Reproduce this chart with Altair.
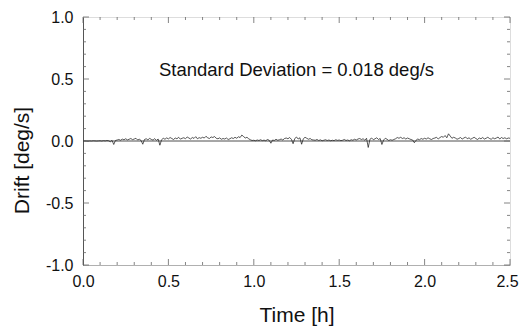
import altair as alt
import pandas as pd

# Drift series, sampled every 0.01 h from 0.00 to 2.50 h
drift = [
    0.000, 0.001, 0.000, -0.001, 0.001, 0.000, 0.002, 0.001, 0.000, 0.001,
    0.002, 0.000, 0.003, 0.001, 0.004, 0.002, -0.006, 0.005, -0.028, 0.004,
    0.008, 0.012, 0.006, 0.015, 0.010, 0.018, 0.009, 0.014, 0.020, 0.011,
    0.016, 0.022, 0.008, 0.014, 0.004, -0.026, 0.012, 0.018, 0.009, 0.021,
    0.013, 0.007, 0.019, 0.005, 0.016, -0.034, 0.010, 0.022, 0.014, 0.025,
    0.017, 0.028, 0.020, 0.012, 0.024, 0.018, 0.030, 0.015, 0.022, 0.026,
    0.019, 0.032, 0.024, 0.016, 0.028, 0.021, 0.035, 0.018, 0.027, 0.022,
    0.030, 0.024, 0.038, 0.026, 0.020, 0.033, 0.028, 0.036, 0.022, 0.018,
    0.025, 0.014, 0.020, 0.016, 0.024, 0.012, 0.018, 0.026, 0.020, 0.030,
    0.022, 0.034, 0.028, 0.048, 0.036, 0.024, 0.030, 0.018, 0.010, 0.004,
    0.006, 0.002, 0.008, 0.004, 0.010, 0.003, 0.007, 0.002, 0.012, 0.006,
    -0.018, 0.008, 0.004, 0.014, 0.006, 0.010, 0.016, 0.008, 0.020, 0.024,
    0.018, 0.028, 0.014, -0.022, 0.020, 0.032, 0.016, 0.026, -0.026, 0.018,
    0.030, 0.022, 0.014, 0.020, 0.010, 0.008, 0.006, 0.012, 0.004, 0.009,
    0.002, 0.006, 0.010, 0.004, 0.008, 0.002, 0.006, 0.003, 0.010, 0.005,
    0.008, 0.003, 0.006, 0.012, 0.004, 0.008, 0.002, 0.010, 0.006, 0.014,
    0.008, 0.016, 0.020, 0.012, 0.018, 0.006, 0.022, -0.052, 0.014, 0.024,
    0.010, 0.018, 0.026, 0.012, 0.020, -0.028, 0.008, 0.022, 0.014, 0.004,
    0.010, 0.006, 0.012, 0.018, 0.028, 0.022, 0.030, 0.020, 0.026, 0.016,
    0.024, 0.018, 0.012, 0.008, -0.014, 0.006, 0.016, 0.010, 0.020, 0.014,
    0.022, 0.016, 0.026, 0.018, 0.012, 0.020, 0.024, 0.030, 0.016, 0.028,
    0.036, 0.030, 0.044, 0.026, 0.058, 0.040, 0.022, 0.030, 0.024, 0.014,
    0.020, 0.028, 0.016, 0.024, 0.032, 0.018, 0.026, 0.014, 0.022, 0.030,
    0.020, 0.012, 0.024, 0.018, 0.028, 0.016, 0.022, 0.030, 0.020, 0.014,
    0.026, 0.018, 0.024, 0.032, 0.016, 0.028, 0.020, 0.026, 0.018, 0.024,
    0.022,
]
times = [round(i * 0.01, 2) for i in range(len(drift))]

x_major = [0.0, 0.5, 1.0, 1.5, 2.0, 2.5]
x_minor = [0.1, 0.2, 0.3, 0.4, 0.6, 0.7, 0.8, 0.9, 1.1, 1.2, 1.3, 1.4,
           1.6, 1.7, 1.8, 1.9, 2.1, 2.2, 2.3, 2.4]
y_major = [-1.0, -0.5, 0.0, 0.5, 1.0]
y_minor = [-0.9, -0.8, -0.7, -0.6, -0.4, -0.3, -0.2, -0.1,
           0.1, 0.2, 0.3, 0.4, 0.6, 0.7, 0.8, 0.9]

annotation = "Standard Deviation = 0.018 deg/s"
ann_x, ann_y = 1.25, 0.57

W, H = 427, 248
FONT = "Liberation Sans"
HYPHEN_EXPR = "replace(datum.label, '\u2212', '-')"

xs = alt.Scale(domain=[0, 2.5], nice=False, zero=False, padding=0)
ys = alt.Scale(domain=[-1, 1], nice=False, zero=False, padding=0)

df = pd.DataFrame({"t": times, "d": drift})

base_x = alt.X("t:Q", scale=xs, axis=alt.Axis(
    title="Time [h]", values=x_major, format=".1f", ticks=False, labelFlush=False,
    labelOffset={"condition": {"test": "datum.value == 2.5", "value": -3}, "value": 0},
    domain=True, domainColor="#b0b0b0", domainWidth=1, grid=False,
    labelFont=FONT, labelFontSize=16, labelColor="#111", labelPadding=8,
    titleFont=FONT, titleFontSize=21, titleFontWeight="normal", titleColor="#111",
    titleBaseline="middle", titleY=50))
base_y = alt.Y("d:Q", scale=ys, axis=alt.Axis(
    title="Drift [deg/s]", values=y_major, format=".1f", ticks=False, labelFlush=False,
    labelExpr=HYPHEN_EXPR,
    domain=True, domainColor="#555", domainWidth=1, grid=False,
    labelFont=FONT, labelFontSize=16, labelColor="#111", labelPadding=10,
    titleFont=FONT, titleFontSize=21, titleFontWeight="normal", titleColor="#111",
    titleBaseline="middle", titleX=-61, titleY=143))

zero_rule = alt.Chart(pd.DataFrame({"z": [0.0]})).mark_rule(
    color="#222", strokeWidth=0.8).encode(y=alt.Y("z:Q", scale=ys))

line = alt.Chart(df).mark_line(color="#111", strokeWidth=0.7).encode(
    x=base_x, y=base_y)


def xticks(vals, length):
    d = pd.DataFrame({"v": vals})
    b = alt.Chart(d).mark_rule(color="#666", strokeWidth=0.8)
    bottom = b.encode(x=alt.X("v:Q", scale=xs), y=alt.value(H), y2=alt.value(H - length))
    top = b.encode(x=alt.X("v:Q", scale=xs), y=alt.value(0), y2=alt.value(length))
    return bottom + top


def yticks(vals, length):
    d = pd.DataFrame({"v": vals})
    b = alt.Chart(d).mark_rule(color="#666", strokeWidth=0.8)
    left = b.encode(y=alt.Y("v:Q", scale=ys), x=alt.value(0), x2=alt.value(length))
    right = b.encode(y=alt.Y("v:Q", scale=ys), x=alt.value(W), x2=alt.value(W - length))
    return left + right


text = alt.Chart(pd.DataFrame({"x": [ann_x], "y": [ann_y], "s": [annotation]})).mark_text(
    font=FONT, fontSize=18.5, color="#111", align="center", baseline="middle").encode(
    x=alt.X("x:Q", scale=xs), y=alt.Y("y:Q", scale=ys), text="s:N")

chart = alt.layer(
    line, zero_rule,
    xticks(x_major, 6), xticks(x_minor, 3),
    yticks(y_major, 6), yticks(y_minor, 3),
    text,
).properties(
    width=W, height=H,
    autosize=alt.AutoSizeParams(type="none"),
    padding={"left": 75, "top": 9, "right": 9, "bottom": 63},
).configure_view(stroke="#999", strokeWidth=1).configure(background="white")

chart.save("out.html", embed_options={"renderer": "svg", "actions": False})
